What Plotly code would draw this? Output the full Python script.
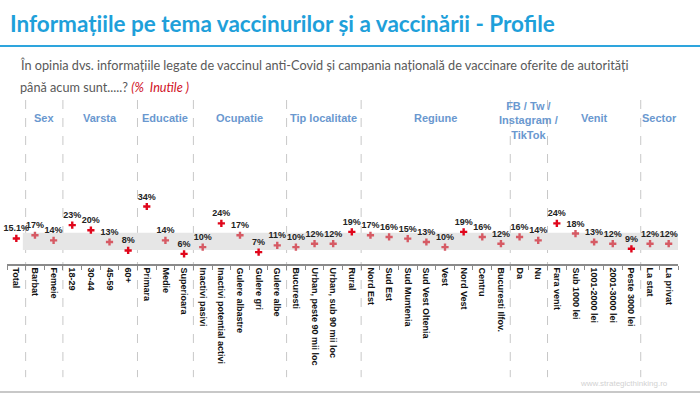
import plotly.graph_objects as go

categories = [
    "Total", "Barbat", "Femeie", "18-29", "30-44", "45-59", "60+",
    "Primara", "Medie", "Superioara",
    "Inactivi pasivi", "Inactivi potential activi", "Gulere albastre", "Gulere gri", "Gulere albe",
    "Bucuresti", "Urban, peste 90 mii loc", "Urban, sub 90 mii loc", "Rural",
    "Nord Est", "Sud Est", "Sud Muntenia", "Sud Vest Oltenia", "Vest", "Nord Vest", "Centru", "Bucuresti Ilfov.",
    "Da", "Nu",
    "Fara venit", "Sub 1000 lei", "1001-2000 lei", "2001-3000 lei", "Peste 3000 lei",
    "La stat", "La privat",
]
values = [15.1, 17, 14, 23, 20, 13, 8, 34, 14, 6, 10, 24, 17, 7, 11, 10, 12, 12, 19,
          17, 16, 15, 13, 10, 19, 16, 12, 16, 14, 24, 18, 13, 12, 9, 12, 12]
significant = [1, 0, 0, 1, 1, 0, 1, 1, 0, 1, 0, 1, 0, 1, 0, 0, 0, 0, 1,
               0, 0, 0, 0, 0, 1, 0, 0, 0, 0, 1, 0, 0, 0, 1, 0, 0]
group_names = ["", "Sex", "Varsta", "Educatie", "Ocupatie", "Tip localitate", "Regiune",
               "FB / Tw /<br>Instagram /<br>TikTok", "Venit", "Sector"]
group_sizes = [1, 2, 4, 3, 5, 4, 8, 2, 5, 2]
band_low, band_high = 8.3, 18.5

FONT = "Liberation Sans"
BRIGHT = "#e0061b"
FADED = "#d65a64"

labels = [f"{v:g}%" for v in values]
mcolors = [BRIGHT if s else FADED for s in significant]

fig = go.Figure()
fig.add_trace(go.Scatter(
    x=categories, y=values, mode="markers+text",
    marker=dict(symbol="cross", size=6, color=mcolors, line=dict(width=0)),
    text=labels, textposition="top center",
    textfont=dict(family=FONT, size=9, color="#222", weight="bold"),
    cliponaxis=False, hoverinfo="x+y",
))

shapes = []
shapes.append(dict(type="rect", xref="x", yref="y", x0=0.35, x1=35.7,
                   y0=band_low, y1=band_high, fillcolor="#e6e6e6",
                   line=dict(width=0), layer="below"))
annotations = []
start = 0
for name, size in zip(group_names, group_sizes):
    end = start + size
    if start > 0:
        shapes.append(dict(type="line", xref="x", yref="paper",
                           x0=start - 0.5, x1=start - 0.5, y0=1.0, y1=-0.69,
                           line=dict(color="#c8c8c8", width=1, dash="dash"), layer="below"))
    if name:
        multi = "<br>" in name
        annotations.append(dict(
            x=(start + end - 1) / 2, xref="x", y=0.872 if multi else 0.89, yref="paper",
            text=name, showarrow=False, xanchor="center", yanchor="middle",
            font=dict(family=FONT, size=11, color="#6a98cf", weight="bold"),
        ))
    start = end


def px(xp):
    return (xp - 7) / 671


def py(yp):
    return (264 - yp) / 164


shapes.append(dict(type="line", xref="paper", yref="paper", x0=px(0), x1=px(700),
                   y0=py(46), y1=py(46), line=dict(color="#2ea5dd", width=2)))
shapes.append(dict(type="line", xref="paper", yref="paper", x0=px(0), x1=px(700),
                   y0=py(392), y1=py(392), line=dict(color="#c8c8c8", width=2)))

annotations += [
    dict(x=px(8), y=py(23), xref="paper", yref="paper", xanchor="left", yanchor="middle",
         text="<b>Informațiile pe tema vaccinurilor și a vaccinării - Profile</b>",
         showarrow=False, font=dict(family="Lato", size=22.5, color="#1ea0da")),
    dict(x=px(18), y=py(65), xref="paper", yref="paper", xanchor="left", yanchor="middle",
         text="În opinia dvs. informațiile legate de vaccinul anti-Covid și campania națională de vaccinare oferite de autorități",
         showarrow=False, font=dict(family="Lato", size=12.7, color="#595959")),
    dict(x=px(18), y=py(87), xref="paper", yref="paper", xanchor="left", yanchor="middle",
         text="până acum sunt.....? <i><span style='color:#d0101e'>(%  Inutile )</span></i>",
         showarrow=False, font=dict(family="Lato", size=12.7, color="#595959")),
    dict(x=px(624), y=py(383), xref="paper", yref="paper", xanchor="center", yanchor="middle",
         text="www.strategicthinking.ro", showarrow=False,
         font=dict(family=FONT, size=8, color="#d2d2d2")),
]

fig.update_layout(
    width=700, height=394,
    margin=dict(l=7, r=22, t=100, b=130, autoexpand=False),
    paper_bgcolor="white", plot_bgcolor="white",
    showlegend=False,
    shapes=shapes, annotations=annotations,
    xaxis=dict(
        type="category", range=[-0.5, 35.5], showgrid=False, zeroline=False,
        showline=True, linecolor="#8a8a8a", linewidth=1.5,
        ticks="outside", ticklen=4, tickcolor="#8a8a8a", tickson="boundaries",
        tickangle=90, tickfont=dict(family=FONT, size=9, color="#111", weight="bold"),
        automargin=False, fixedrange=True,
    ),
    yaxis=dict(range=[0, 97], visible=False, fixedrange=True),
)

fig.write_html("out.html", config={"displayModeBar": False},
               post_script="document.body.style.margin='0';document.body.style.overflow='hidden';")
